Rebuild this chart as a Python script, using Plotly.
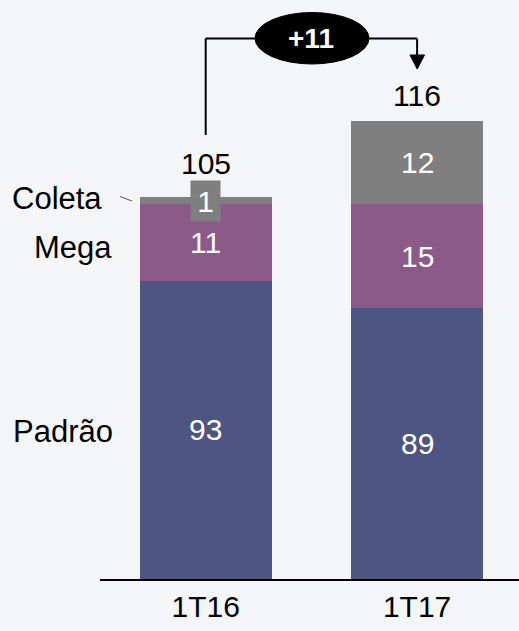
import plotly.graph_objects as go

# dados
periodos = ['1T16', '1T17']
padrao = [93, 89]
mega = [11, 15]
coleta = [1, 12]
totais = [105, 116]
variacao = '+11'

FONTE = 'Arial, Liberation Sans, sans-serif'
COR_PADRAO = '#4d5682'
COR_MEGA = '#8b5a89'
COR_COLETA = '#7f7f7f'
FUNDO = '#f4f5f7'

# eixo y começa em 50 (escala quebrada, como no original)
Y_MIN = 50
PX_TOPO = 579        # linha de base em pixels
ESCALA = 6.94        # px por unidade
Y_MAX = Y_MIN + PX_TOPO / ESCALA


def py(px):
    # pixel vertical -> coordenada paper
    return (PX_TOPO - px) / PX_TOPO


def px_x(px):
    # pixel horizontal -> coordenada paper
    return (px - 100) / 419


xs = list(range(len(periodos)))

fig = go.Figure()
for nome, vals, cor in [('Padrão', padrao, COR_PADRAO),
                        ('Mega', mega, COR_MEGA),
                        ('Coleta', coleta, COR_COLETA)]:
    fig.add_trace(go.Bar(x=xs, y=vals, name=nome, marker_color=cor,
                         marker_line_width=0, width=0.624, hoverinfo='skip'))

anotacoes = []
# rótulos dentro das barras
for i in xs:
    base = 0
    for vals, nome in [(padrao, 'Padrão'), (mega, 'Mega'), (coleta, 'Coleta')]:
        topo = base + vals[i]
        meio = (max(base, Y_MIN) + topo) / 2
        if vals[i] >= 5:
            anotacoes.append(dict(x=i, y=meio, xref='x', yref='y', text=str(vals[i]),
                                  showarrow=False, yanchor='middle',
                                  font=dict(color='white', size=30)))
        else:
            anotacoes.append(dict(x=i, y=topo - 0.6, xref='x', yref='y', text=str(vals[i]),
                                  showarrow=False, yanchor='middle', bgcolor=COR_COLETA,
                                  width=27, height=38, font=dict(color='white', size=30)))
        base = topo
    # totais
    anotacoes.append(dict(x=i, y=totais[i], xref='x', yref='y', text=str(totais[i]),
                          showarrow=False, yanchor='bottom',
                          yshift=15 if i == 0 else 7,
                          font=dict(color='black', size=30)))

# nomes das séries à esquerda
for nome, ypx, xpx in [('Coleta', 198, 104), ('Mega', 247, 114), ('Padrão', 431, 115)]:
    anotacoes.append(dict(x=px_x(xpx), y=py(ypx), xref='paper', yref='paper', text=nome,
                          showarrow=False, xanchor='right', yanchor='middle',
                          font=dict(color='black', size=31)))

# variação
anotacoes.append(dict(x=0.5, y=py(38), xref='x', yref='paper', text='<b>%s</b>' % variacao,
                      showarrow=False, yanchor='middle', font=dict(color='white', size=28)))

formas = [
    # colchete
    dict(type='line', xref='x', yref='paper', x0=0, x1=0, y0=py(135), y1=py(38.5),
         line=dict(color='black', width=2)),
    dict(type='line', xref='x', yref='paper', x0=0, x1=1, y0=py(38.5), y1=py(38.5),
         line=dict(color='black', width=2)),
    dict(type='line', xref='x', yref='paper', x0=1, x1=1, y0=py(38.5), y1=py(56),
         line=dict(color='black', width=2)),
    dict(type='path', xref='paper', yref='paper',
         path='M %f %f L %f %f L %f %f Z' % (px_x(410), py(55), px_x(424.5), py(55),
                                              px_x(417.2), py(69)),
         fillcolor='black', line=dict(color='black', width=1)),
    dict(type='circle', xref='paper', yref='paper', x0=px_x(255), x1=px_x(369),
         y0=py(64), y1=py(12.5), fillcolor='black', line=dict(color='black', width=1)),
    # traço do rótulo Coleta
    dict(type='line', xref='paper', yref='paper', x0=px_x(120), x1=px_x(132),
         y0=py(196.5), y1=py(201), line=dict(color='#555555', width=1)),
]

fig.update_layout(
    width=519, height=631,
    margin=dict(l=100, r=0, t=0, b=52),
    paper_bgcolor=FUNDO, plot_bgcolor=FUNDO,
    barmode='stack', showlegend=False,
    font=dict(family=FONTE, color='black', size=30),
    xaxis=dict(range=[-0.5, 1.482], tickvals=xs, ticktext=periodos,
               showgrid=False, zeroline=False, showline=True, linecolor='black',
               linewidth=2, ticks='', tickfont=dict(size=30)),
    yaxis=dict(range=[Y_MIN, Y_MAX], visible=False, showgrid=False),
    annotations=anotacoes,
    shapes=formas,
)

# sem margem da página, para a figura ocupar a janela toda
fig.write_html('out.html', config={'displayModeBar': False},
               post_script="document.body.style.margin='0';"
                           "document.body.style.background='%s';" % FUNDO)
